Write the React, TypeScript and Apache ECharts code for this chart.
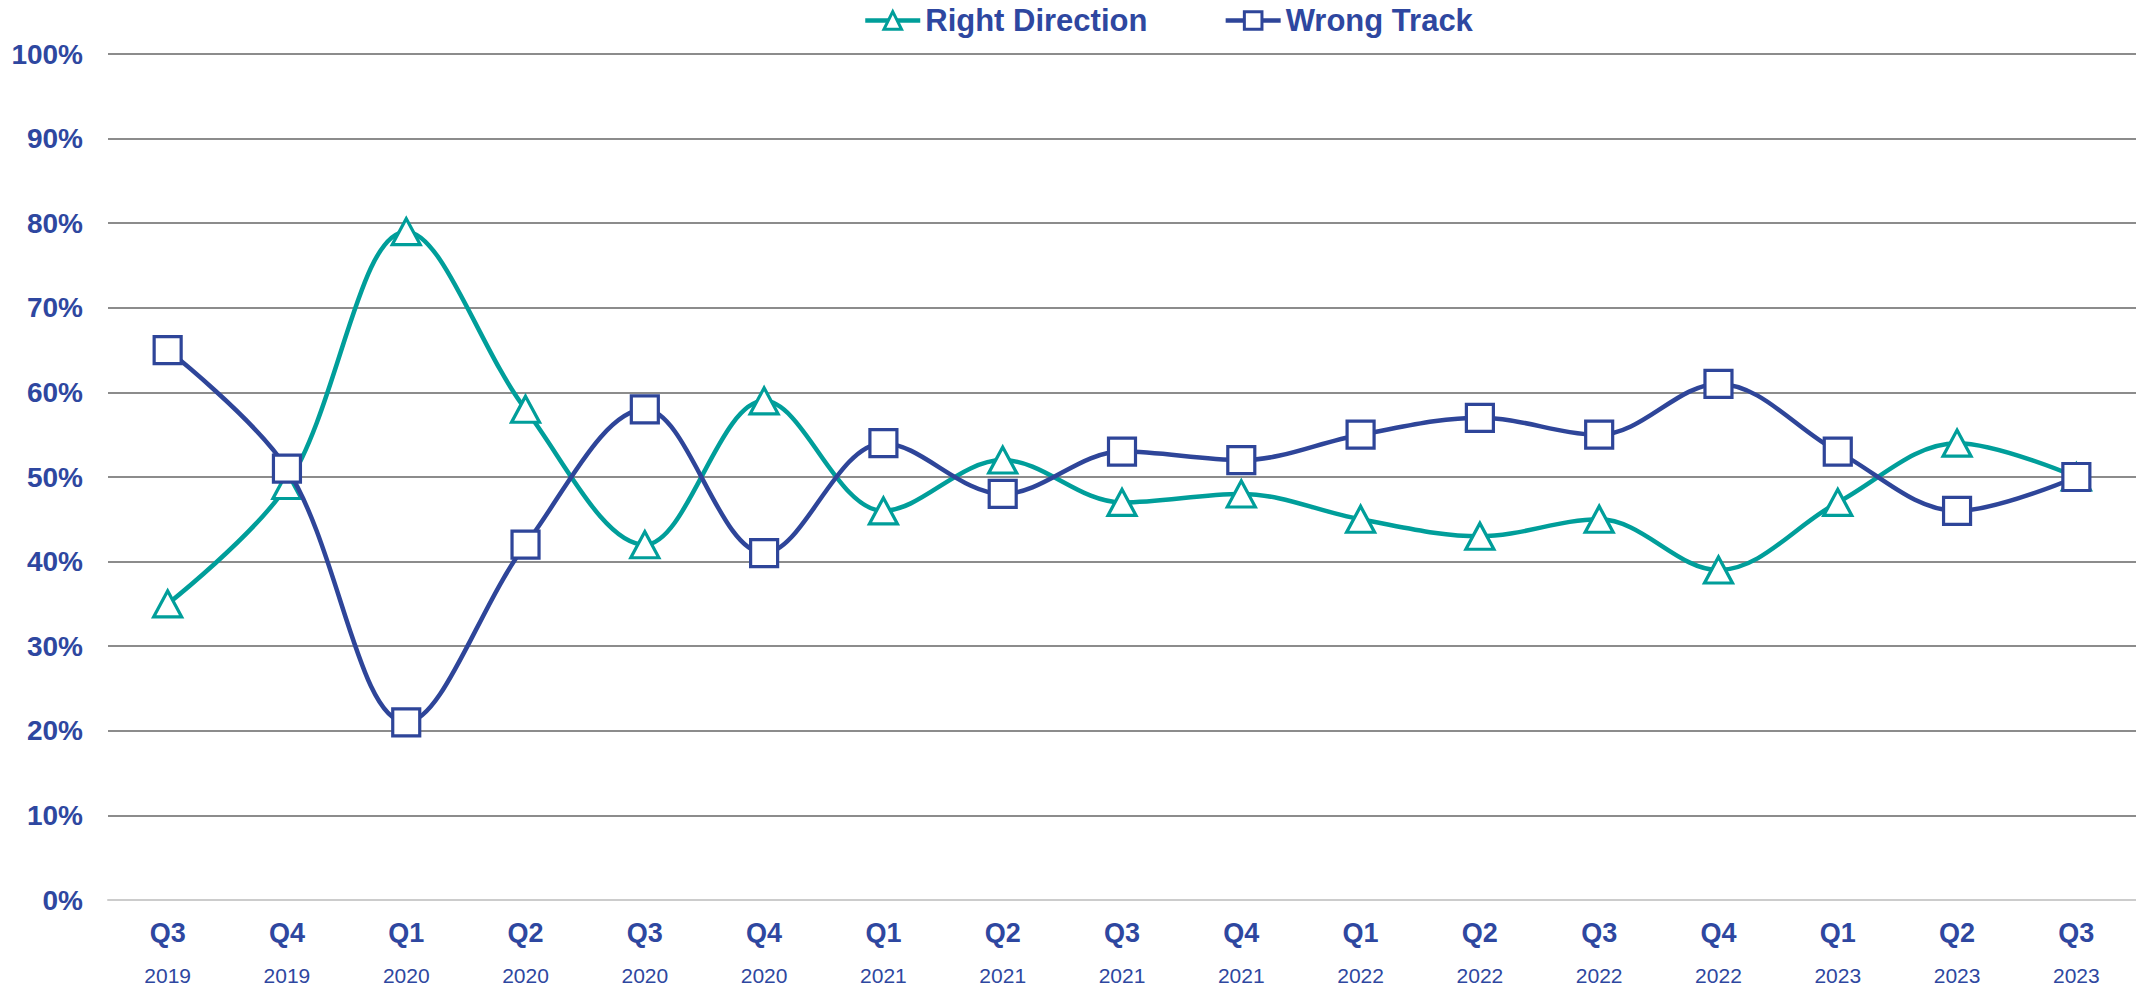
import React, { useEffect, useRef } from "react";
import * as echarts from "echarts";

const quarters = ["Q3", "Q4", "Q1", "Q2", "Q3", "Q4", "Q1", "Q2", "Q3", "Q4", "Q1", "Q2", "Q3", "Q4", "Q1", "Q2", "Q3"];
const years = ["2019", "2019", "2020", "2020", "2020", "2020", "2021", "2021", "2021", "2021", "2022", "2022", "2022", "2022", "2023", "2023", "2023"];
const rightDirection = [35, 49, 79, 58, 42, 59, 46, 52, 47, 48, 45, 43, 45, 39, 47, 54, 50];
const wrongTrack = [65, 51, 21, 42, 58, 41, 54, 48, 53, 52, 55, 57, 55, 61, 53, 46, 50];

const TEAL = "#009E9A";
const NAVY = "#2E4599";
const LABEL = "#2E47A0";
const FONT = "'Liberation Sans', Arial, sans-serif";

export default function App() {
  const ref = useRef<HTMLDivElement>(null);
  useEffect(() => {
    document.body.style.margin = "0";
    const chart = echarts.init(ref.current!, null, { renderer: "svg" });
    const categories = quarters.map((q, i) => `${q}\n${years[i]}`);
    chart.setOption({
      animation: false,
      backgroundColor: "#ffffff",
      legend: {
        top: 0,
        left: 858,
        itemGap: 76,
        itemWidth: 55,
        itemHeight: 22,
        lineStyle: { width: 4.5 },
        itemStyle: { borderWidth: 3 },
        textStyle: {
          fontFamily: FONT,
          fontWeight: "bold",
          fontSize: 31,
          color: LABEL,
        },
        data: ["Right Direction", "Wrong Track"],
      },
      grid: { left: 108, right: 0, top: 54, bottom: 87, containLabel: false },
      xAxis: {
        type: "category",
        data: categories,
        boundaryGap: true,
        axisLine: { show: true, lineStyle: { color: "#cccccc", width: 2 } },
        axisTick: { show: false },
        axisLabel: {
          margin: 12,
          interval: 0,
          formatter: (v: string) => {
            const [q, y] = v.split("\n");
            return `{q|${q}}\n{y|${y}}`;
          },
          rich: {
            q: {
              fontFamily: FONT,
              fontWeight: "bold",
              fontSize: 27,
              color: LABEL,
              lineHeight: 42,
            },
            y: {
              fontFamily: FONT,
              fontSize: 21,
              color: LABEL,
              lineHeight: 42,
            },
          },
        },
      },
      yAxis: {
        type: "value",
        min: 0,
        max: 100,
        interval: 10,
        axisLine: { show: false },
        axisTick: { show: false },
        splitLine: { show: true, lineStyle: { color: "#8c8c8c", width: 2 } },
        axisLabel: {
          margin: 25,
          formatter: "{value}%",
          fontFamily: FONT,
          fontWeight: "bold",
          fontSize: 28,
          color: LABEL,
        },
      },
      series: [
        {
          name: "Right Direction",
          type: "line",
          data: rightDirection,
          smooth: 0.35,
          symbol: "triangle",
          symbolSize: [28, 26],
          itemStyle: { color: "#ffffff", borderColor: TEAL, borderWidth: 3.2 },
          lineStyle: { color: TEAL, width: 4.5 },
          z: 2,
        },
        {
          name: "Wrong Track",
          type: "line",
          data: wrongTrack,
          smooth: 0.35,
          symbol: "rect",
          symbolSize: 27,
          itemStyle: { color: "#ffffff", borderColor: NAVY, borderWidth: 3.2 },
          lineStyle: { color: NAVY, width: 4.5 },
          z: 3,
        },
      ],
    });
    return () => chart.dispose();
  }, []);
  return <div ref={ref} style={{ position: "fixed", left: 0, top: 0, width: 2136, height: 987 }} />;
}
